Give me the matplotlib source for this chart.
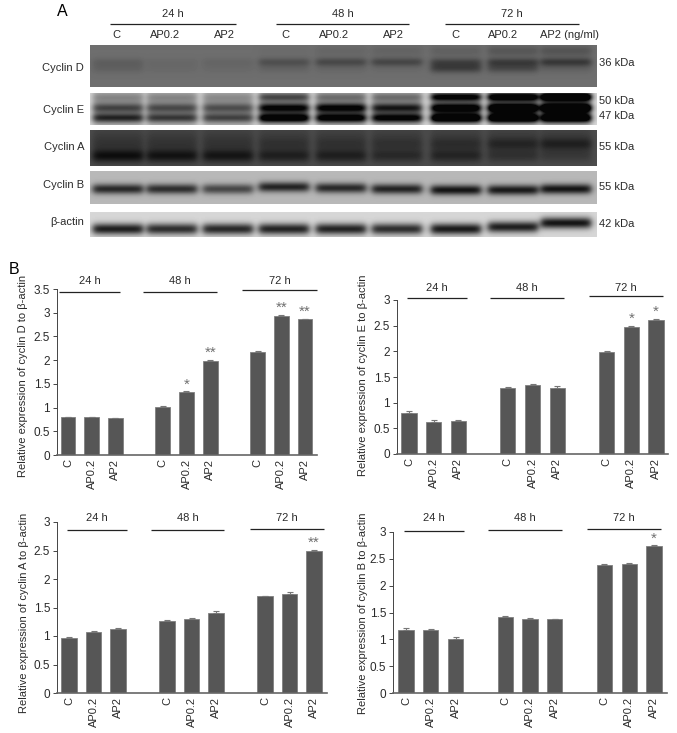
import numpy as np
import matplotlib
matplotlib.use("Agg")
import matplotlib.pyplot as plt
from matplotlib.lines import Line2D

WIDTH = 677
HEIGHT = 733

plt.rcParams['font.family'] = ['Liberation Sans', 'DejaVu Sans']
plt.rcParams['font.size'] = 8

# bar data
bar_labels = ["C", "AP0.2", "AP2", "C", "AP0.2", "AP2", "C", "AP0.2", "AP2"]
cyclin_d = [0.80, 0.80, 0.78, 1.02, 1.33, 1.99, 2.18, 2.94, 2.86]
cyclin_d_err = [0.01, 0.01, 0.01, 0.01, 0.01, 0.01, 0.01, 0.01, 0.01]
cyclin_d_stars = ["", "", "", "", "*", "**", "", "**", "**"]
cyclin_e = [0.80, 0.63, 0.65, 1.29, 1.35, 1.29, 1.99, 2.47, 2.61]
cyclin_e_err = [0.03, 0.03, 0.02, 0.01, 0.01, 0.03, 0.02, 0.03, 0.02]
cyclin_e_stars = ["", "", "", "", "", "", "", "*", "*"]
cyclin_a = [0.97, 1.07, 1.12, 1.26, 1.30, 1.40, 1.70, 1.74, 2.49]
cyclin_a_err = [0.01, 0.01, 0.02, 0.02, 0.01, 0.03, 0.01, 0.03, 0.02]
cyclin_a_stars = ["", "", "", "", "", "", "", "", "**"]
cyclin_b = [1.18, 1.18, 1.00, 1.41, 1.37, 1.37, 2.38, 2.41, 2.73]
cyclin_b_err = [0.04, 0.02, 0.05, 0.02, 0.02, 0.01, 0.03, 0.01, 0.02]
cyclin_b_stars = ["", "", "", "", "", "", "", "", "*"]

# darkness of each blot band, lane by lane
d_upper = [0.00, 0.00, 0.00, 0.01, 0.03, 0.04, 0.05, 0.09, 0.10]
d_main = [0.05, 0.02, 0.03, 0.11, 0.14, 0.15, 0.14, 0.17, 0.20]
d_lower = [0.05, 0.02, 0.02, 0.04, 0.03, 0.02, 0.18, 0.14, 0.05]
e_top = [0.10, 0.10, 0.08, 0.35, 0.20, 0.20, 0.70, 0.85, 1.10]
e_mid = [0.30, 0.28, 0.26, 0.60, 0.62, 0.48, 0.75, 0.95, 1.10]
e_low = [0.48, 0.40, 0.36, 0.80, 0.74, 0.68, 0.95, 1.00, 0.95]
a_upper = [0.02, 0.02, 0.02, 0.03, 0.03, 0.03, 0.05, 0.08, 0.10]
a_main = [0.22, 0.20, 0.19, 0.15, 0.15, 0.11, 0.13, 0.08, 0.05]
b_main = [0.56, 0.54, 0.44, 0.58, 0.56, 0.58, 0.64, 0.62, 0.64]
actin_main = [0.72, 0.66, 0.68, 0.70, 0.70, 0.66, 0.74, 0.72, 0.76]

lane_names = ["C", "AP0.2", "AP2", "C", "AP0.2", "AP2", "C", "AP0.2", "AP2 (ng/ml)"]
time_labels = ["24 h", "48 h", "72 h"]
blot_names = ["Cyclin D", "Cyclin E", "Cyclin A", "Cyclin B", "β-actin"]
mass_labels = ["36 kDa", "50 kDa", "47 kDa", "55 kDa", "55 kDa", "42 kDa"]

# layout, pixels from the top left of the picture
LANE_CENTERS = [118, 172, 228, 284, 341, 397, 456, 513, 566]
TEXT_COLOR = "#2a2a2a"
BAR_COLOR = "#565656"


def fx(px):
    return px / WIDTH


def fy(px):
    return 1 - px / HEIGHT


def add_text(fig, x, y, s, **kwargs):
    kwargs.setdefault("color", TEXT_COLOR)
    kwargs.setdefault("ha", "center")
    kwargs.setdefault("va", "center")
    fig.text(fx(x), fy(y), s, **kwargs)


def add_line(fig, x0, x1, y, lw=1.0, color="#222222"):
    fig.add_artist(Line2D([fx(x0), fx(x1)], [fy(y), fy(y)], lw=lw, color=color,
                          solid_capstyle="butt"))


def band_layer(xs, ys, levels, y_center, sigma, shifts=None, half=25):
    layer = np.zeros((len(ys), len(xs)))
    for i, level in enumerate(levels):
        left = LANE_CENTERS[i] - half
        right = LANE_CENTERS[i] + half
        across = 0.5 * (np.tanh((xs - left) / 4.0) - np.tanh((xs - right) / 4.0))
        shift = shifts[i] if shifts is not None else 0
        down = np.exp(-((ys - y_center - shift) ** 2) / (2 * sigma ** 2))
        layer += level * np.outer(down, across)
    return layer


def draw_blot(fig, left, right, top, bottom, background, bands):
    xs = np.arange(left, right) + 0.5
    ys = np.arange(top, bottom) + 0.5
    image = np.full((len(ys), len(xs)), background, dtype=float)
    for levels, y_center, sigma, shifts in bands:
        image -= band_layer(xs, ys, levels, y_center, sigma, shifts)
    ax = fig.add_axes([fx(left), fy(bottom), fx(right - left), (bottom - top) / HEIGHT])
    ax.imshow(np.clip(image, 0.02, 1), cmap="gray", vmin=0, vmax=1, aspect="auto",
              interpolation="bilinear")
    ax.axis("off")


def draw_panel(fig, values, errors, stars, ylabel, yticks, box, groups):
    left, right, top, bottom, first_bar, last_bar, ylabel_x, ylabel_y = box
    ax = fig.add_axes([fx(left), fy(bottom), (right - left) / WIDTH, (bottom - top) / HEIGHT])
    positions = np.array([0, 1, 2, 4, 5, 6, 8, 9, 10])
    step = (last_bar - first_bar) / 10
    ax.set_xlim((left - first_bar) / step, (right - first_bar) / step)
    ax.set_ylim(0, yticks[-1])
    ax.bar(positions, values, width=0.62, color=BAR_COLOR, edgecolor="#808080", linewidth=0.6,
           yerr=[np.zeros(len(errors)), errors], ecolor="#777777",
           error_kw={"elinewidth": 0.8, "capsize": 2.5, "capthick": 0.8})
    for pos, value, err, star in zip(positions, values, errors, stars):
        if star:
            ax.text(pos, value + err, star, color="#707070", ha="center", va="bottom",
                    fontsize=11, linespacing=1)
    ax.set_xticks(positions)
    ax.set_xticklabels(bar_labels, rotation=90, color=TEXT_COLOR, fontsize=8)
    ax.tick_params(axis="x", length=0, pad=3)
    ax.set_yticks(yticks)
    ax.set_yticklabels([f"{t:g}" for t in yticks], color=TEXT_COLOR, fontsize=8.5)
    ax.tick_params(axis="y", length=3, width=0.7, color="#444444", pad=2)
    for side in ("top", "right"):
        ax.spines[side].set_visible(False)
    ax.spines["left"].set_color("#444444")
    ax.spines["left"].set_linewidth(0.7)
    ax.spines["bottom"].set_color("#666666")
    ax.spines["bottom"].set_linewidth(1.2)
    add_text(fig, ylabel_x, ylabel_y, ylabel, rotation=90, fontsize=8)
    for name, x0, x1, line_y, text_y in groups:
        add_line(fig, x0, x1, line_y, lw=0.9)
        add_text(fig, (x0 + x1) / 2, text_y, name, fontsize=8)


fig = plt.figure(figsize=(WIDTH / 100, HEIGHT / 100), dpi=100, facecolor="white")

# panel A, the blots
draw_blot(fig, 90, 597, 45, 87, 0.43, [
    (d_upper, 51, 4, None), (d_main, 62, 3, None), (d_lower, 68, 3.5, None)])
draw_blot(fig, 90, 597, 93, 125, 0.86, [
    ([0.30] * 9, 108, 16, None), (e_top, 97, 3, None), (e_mid, 108, 3.2, None),
    (e_low, 118, 3.2, None)])
draw_blot(fig, 90, 597, 130, 166, 0.30, [
    ([0.08] * 9, 142, 10, None), (a_upper, 144, 4, None), (a_main, 156, 4.5, None)])
draw_blot(fig, 90, 597, 171, 204, 0.72, [
    (b_main, 189, 3.6, [0, 0, 0, -2, -1, 0, 1, 1, 0])])
draw_blot(fig, 90, 597, 212, 237, 0.84, [
    (actin_main, 229, 4.0, [0, 0, 0, 0, 0, 0, 0, -2, -6])])

add_text(fig, 62, 11, "A", fontsize=11.5, color="black")
for name, x0, x1 in zip(time_labels, [110, 276, 445], [236, 409, 579]):
    add_line(fig, x0, x1, 24, lw=0.9)
    add_text(fig, (x0 + x1) / 2, 14, name)
for name, x in zip(lane_names, [116, 165, 224, 285, 334, 393, 455, 503, 570]):
    add_text(fig, x, 35, name)
for name, y in zip(blot_names, [68, 110, 147, 185, 222]):
    add_text(fig, 84, y, name, ha="right")
for name, y in zip(mass_labels, [63, 101, 116, 147, 187, 224]):
    add_text(fig, 599, y, name, ha="left")

# panel B, the bars
add_text(fig, 14, 269, "B", fontsize=11.5, color="black")
draw_panel(fig, cyclin_d, cyclin_d_err, cyclin_d_stars,
           "Relative expression of cyclin D to β-actin",
           [0, 0.5, 1, 1.5, 2, 2.5, 3, 3.5],
           (57, 317, 289, 455, 68, 305, 23, 376),
           [("24 h", 59, 120, 292, 281), ("48 h", 143, 217, 292, 281), ("72 h", 242, 317, 290, 281)])
draw_panel(fig, cyclin_e, cyclin_e_err, cyclin_e_stars,
           "Relative expression of cyclin E to β-actin",
           [0, 0.5, 1, 1.5, 2, 2.5, 3],
           (397, 668, 300, 454, 409, 656, 363, 375),
           [("24 h", 407, 467, 298, 288), ("48 h", 490, 564, 298, 288), ("72 h", 589, 663, 296, 288)])
draw_panel(fig, cyclin_a, cyclin_a_err, cyclin_a_stars,
           "Relative expression of cyclin A to β-actin",
           [0, 0.5, 1, 1.5, 2, 2.5, 3],
           (57, 327, 522, 693, 69, 314, 24, 613),
           [("24 h", 67, 127, 530, 518), ("48 h", 151, 224, 530, 518), ("72 h", 250, 324, 529, 518)])
draw_panel(fig, cyclin_b, cyclin_b_err, cyclin_b_stars,
           "Relative expression of cyclin B to β-actin",
           [0, 0.5, 1, 1.5, 2, 2.5, 3],
           (393, 667, 532, 693, 406, 654, 363, 613),
           [("24 h", 404, 464, 531, 518), ("48 h", 488, 562, 530, 518), ("72 h", 587, 661, 529, 518)])

fig.savefig("out.png", dpi=100, facecolor="white")
